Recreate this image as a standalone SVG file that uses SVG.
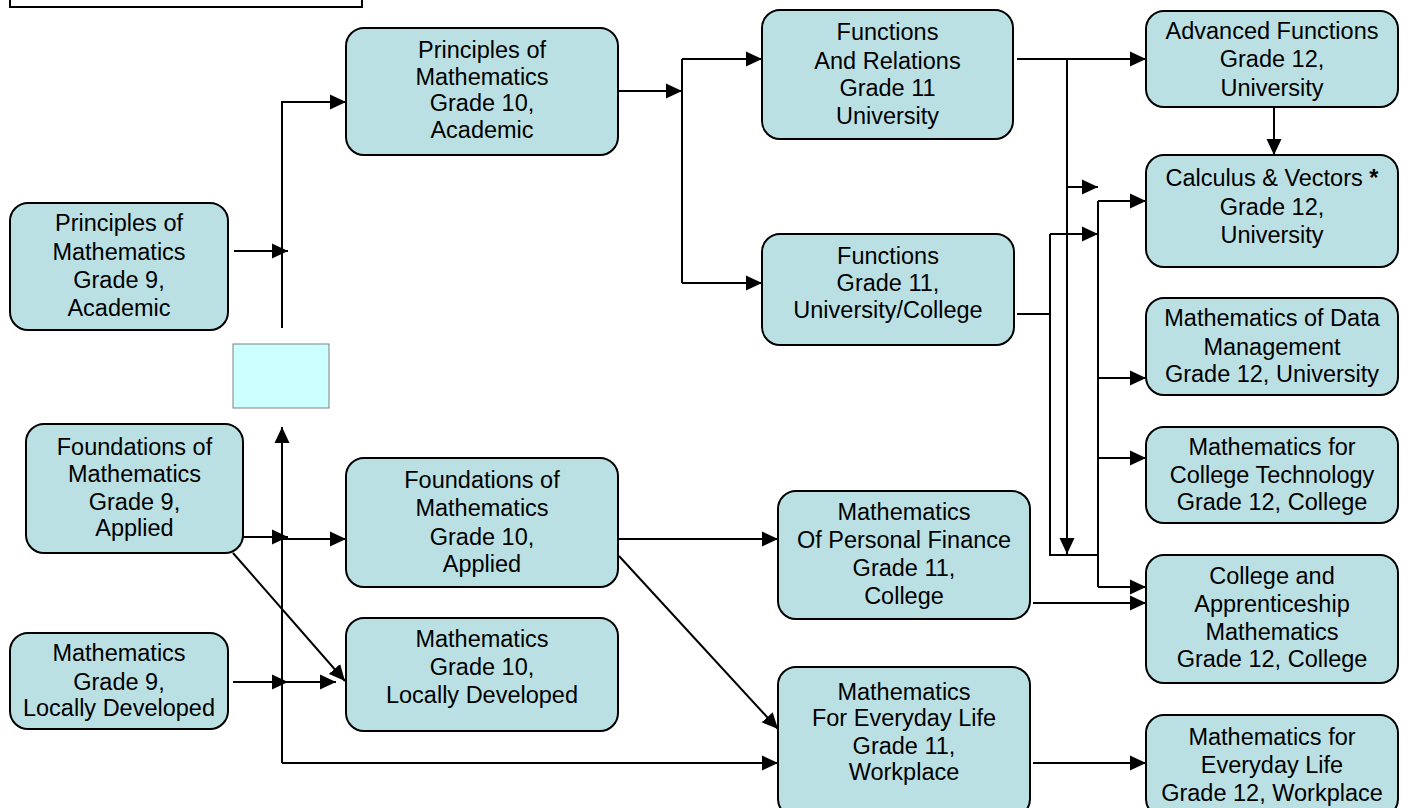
<svg xmlns="http://www.w3.org/2000/svg" width="1408" height="808" viewBox="0 0 1408 808">
<style>
.node rect{fill:#BBE0E3;stroke:#000;stroke-width:2}
.node text{font-family:"Liberation Sans",Arial,sans-serif;font-size:23.5px;fill:#000;text-anchor:middle}
.conn path{fill:none;stroke:#000;stroke-width:2}
.arr{marker-end:url(#ah)}
</style>
<defs>
<marker id="ah" markerUnits="userSpaceOnUse" markerWidth="17" markerHeight="16" refX="16" refY="8" orient="auto">
<path d="M0,0.5 L16,8 L0,15.5 z" fill="#000"/>
</marker>
</defs>
<rect x="10" y="-10" width="352" height="17" fill="#fff" stroke="#000" stroke-width="2"/>
<rect x="233" y="344" width="96" height="64" fill="#CCFFFF" stroke="#808080" stroke-width="1"/>
<g class="conn">
<path class="arr" d="M234,251 H288"/>
<path class="arr" d="M282,328 V102 H346"/>
<path class="arr" d="M243,537 H288"/>
<path class="arr" d="M282,539 H346"/>
<path class="arr" d="M233,553 L345,681"/>
<path class="arr" d="M233,682 H288"/>
<path class="arr" d="M282,682 H336"/>
<path class="arr" d="M282,763 V427"/>
<path class="arr" d="M282,763 H778"/>
<path class="arr" d="M618,91 H682"/>
<path d="M682,59 V283"/>
<path class="arr" d="M682,59 H762"/>
<path class="arr" d="M682,283 H762"/>
<path class="arr" d="M1017,59 H1146"/>
<path class="arr" d="M1067,59 V554"/>
<path class="arr" d="M1067,187 H1098"/>
<path d="M1017,314 H1050"/>
<path d="M1050,234 V555 H1098"/>
<path class="arr" d="M1050,234 H1098"/>
<path d="M1098,201 V587"/>
<path class="arr" d="M1098,201 H1146"/>
<path class="arr" d="M1098,378 H1146"/>
<path class="arr" d="M1098,458 H1146"/>
<path class="arr" d="M1098,587 H1146"/>
<path class="arr" d="M1274,107 V155"/>
<path class="arr" d="M1033,603 H1146"/>
<path class="arr" d="M1033,763 H1146"/>
<path class="arr" d="M618,539 H778"/>
<path class="arr" d="M619,556 L778,729"/>
</g>
<g id="n-principles9" class="node"><rect x="10" y="203" width="218" height="127" rx="18"/>
<text x="119" y="231">Principles of</text><text x="119" y="260">Mathematics</text><text x="119" y="288">Grade 9,</text><text x="119" y="316">Academic</text></g>
<g id="n-foundations9" class="node"><rect x="26" y="424" width="217" height="129" rx="18"/>
<text x="134.5" y="455">Foundations of</text><text x="134.5" y="482">Mathematics</text><text x="134.5" y="510">Grade 9,</text><text x="134.5" y="536">Applied</text></g>
<g id="n-math9ld" class="node"><rect x="10" y="633" width="218" height="96" rx="18"/>
<text x="119" y="661">Mathematics</text><text x="119" y="690">Grade 9,</text><text x="119" y="716">Locally Developed</text></g>
<g id="n-principles10" class="node"><rect x="346" y="28" width="272" height="127" rx="18"/>
<text x="482" y="58">Principles of</text><text x="482" y="85">Mathematics</text><text x="482" y="111">Grade 10,</text><text x="482" y="138">Academic</text></g>
<g id="n-foundations10" class="node"><rect x="346" y="458" width="272" height="129" rx="18"/>
<text x="482" y="488">Foundations of</text><text x="482" y="516">Mathematics</text><text x="482" y="545">Grade 10,</text><text x="482" y="572">Applied</text></g>
<g id="n-math10ld" class="node"><rect x="346" y="618" width="272" height="113" rx="18"/>
<text x="482" y="647">Mathematics</text><text x="482" y="675">Grade 10,</text><text x="482" y="703">Locally Developed</text></g>
<g id="n-funcrel11" class="node"><rect x="762" y="10" width="251" height="129" rx="18"/>
<text x="887.5" y="40">Functions</text><text x="887.5" y="69">And Relations</text><text x="887.5" y="96">Grade 11</text><text x="887.5" y="124">University</text></g>
<g id="n-func11" class="node"><rect x="762" y="234" width="252" height="111" rx="18"/>
<text x="888" y="264">Functions</text><text x="888" y="291">Grade 11,</text><text x="888" y="318">University/College</text></g>
<g id="n-finance11" class="node"><rect x="778" y="491" width="252" height="128" rx="18"/>
<text x="904" y="520">Mathematics</text><text x="904" y="548">Of Personal Finance</text><text x="904" y="576">Grade 11,</text><text x="904" y="604">College</text></g>
<g id="n-everyday11" class="node"><rect x="778" y="667" width="252" height="150" rx="18"/>
<text x="904" y="700">Mathematics</text><text x="904" y="726">For Everyday Life</text><text x="904" y="754">Grade 11,</text><text x="904" y="780">Workplace</text></g>
<g id="n-advfunc12" class="node"><rect x="1146" y="11" width="252" height="96" rx="18"/>
<text x="1272" y="39">Advanced Functions</text><text x="1272" y="67">Grade 12,</text><text x="1272" y="96">University</text></g>
<g id="n-calculus12" class="node"><rect x="1146" y="155" width="252" height="112" rx="18"/>
<text x="1272" y="186">Calculus &amp; Vectors <tspan font-weight="bold">*</tspan></text><text x="1272" y="215">Grade 12,</text><text x="1272" y="243">University</text></g>
<g id="n-data12" class="node"><rect x="1146" y="298" width="252" height="97" rx="18"/>
<text x="1272" y="326">Mathematics of Data</text><text x="1272" y="355">Management</text><text x="1272" y="382">Grade 12, University</text></g>
<g id="n-tech12" class="node"><rect x="1146" y="427" width="252" height="96" rx="18"/>
<text x="1272" y="455">Mathematics for</text><text x="1272" y="483">College Technology</text><text x="1272" y="510">Grade 12, College</text></g>
<g id="n-apprentice12" class="node"><rect x="1146" y="555" width="252" height="128" rx="18"/>
<text x="1272" y="584">College and</text><text x="1272" y="612">Apprenticeship</text><text x="1272" y="640">Mathematics</text><text x="1272" y="667">Grade 12, College</text></g>
<g id="n-everyday12" class="node"><rect x="1146" y="715" width="252" height="102" rx="18"/>
<text x="1272" y="745">Mathematics for</text><text x="1272" y="773">Everyday Life</text><text x="1272" y="801">Grade 12, Workplace</text></g>
</svg>
